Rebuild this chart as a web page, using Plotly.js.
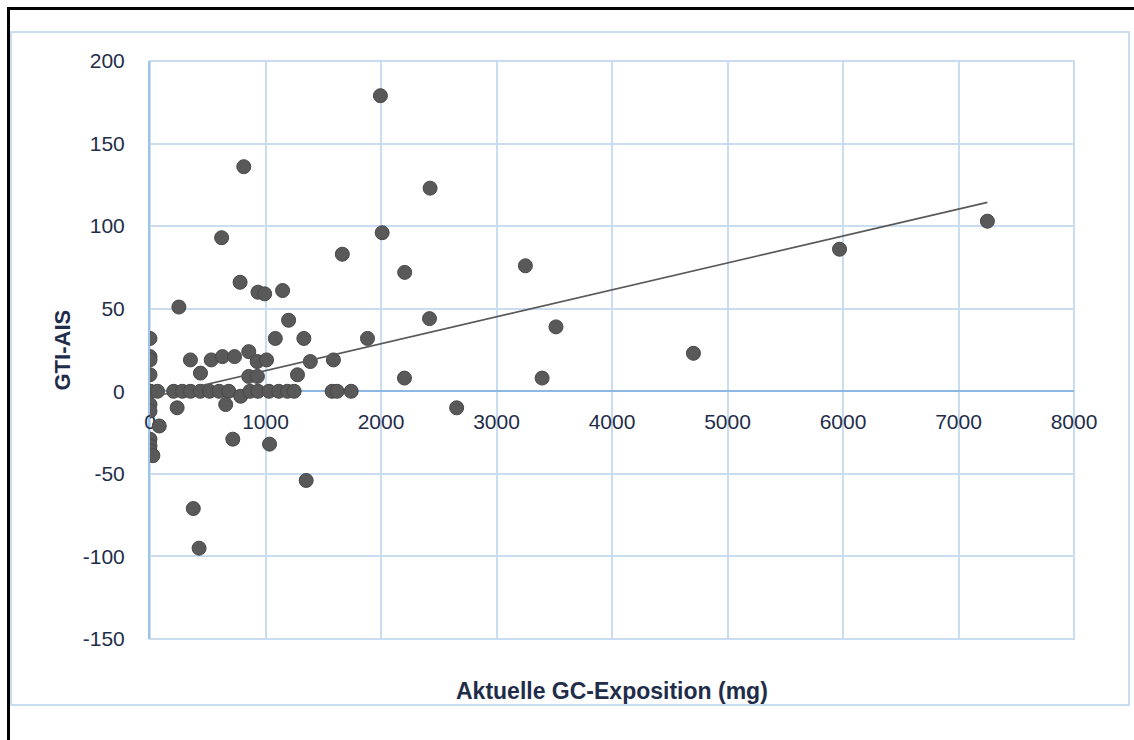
<!DOCTYPE html>
<html>
<head>
<meta charset="utf-8">
<script src="https://cdn.plot.ly/plotly-3.0.1.min.js"></script>
<style>
  html, body { margin:0; padding:0; background:#ffffff; }
  #wrap { position:relative; width:1134px; height:740px; overflow:hidden; background:#fff; }
  #blk { position:absolute; left:7px; top:7px; width:1140px; height:740px; border-left:3px solid #000; border-top:3px solid #000; box-sizing:border-box; }
  #frm { position:absolute; left:10px; top:31px; width:1120px; height:675px; border:2px solid #C9DCF0; box-sizing:border-box; }
  #chart { position:absolute; left:0; top:0; width:1134px; height:740px; }
</style>
</head>
<body>
<div id="wrap">
  <div id="blk"></div>
  <div id="frm"></div>
  <div id="chart"></div>
</div>
<script>
// Aktuelle GC-Exposition (mg)
const exposure = [
  1995, 812, 2425, 2010, 620, 1665, 3250, 2205, 780, 1148,
  935, 993, 250, 2420, 1200, 3515, 0, 1085, 1332, 1883,
  855, 4705, 0, 0, 350, 530, 627, 732, 928, 1009,
  1388, 1588, 0, 437, 855, 930, 1277, 2203, 3395, 5970,
  7250,
  0, 0, 0, 65, 205, 280, 350, 435, 515, 598,
  682, 785, 865, 935, 1030, 1115, 1190, 1248, 1577, 1620,
  1742,
  0, 0, 0, 0, 0, 25, 80, 235, 655, 717,
  1035, 1352, 375, 425, 2655
];
// GTI-AIS
const gtiAis = [
  179, 136, 123, 96, 93, 83, 76, 72, 66, 61,
  60, 59, 51, 44, 43, 39, 32, 32, 32, 32,
  24, 23, 21, 19, 19, 19, 21, 21, 18, 19,
  18, 19, 10, 11, 9, 9, 10, 8, 8, 86,
  103,
  0, 0, 0, 0, 0, 0, 0, 0, 0, 0,
  0, -3, 0, 0, 0, 0, 0, 0, 0, 0,
  0,
  -8, -12, -29, -33, -36, -39, -21, -10, -8, -29,
  -32, -54, -71, -95, -10
];
// Linear trendline
const trendX = [0, 7250];
const trendY = [-3.8, 114.4];

const xTicks = [0, 1000, 2000, 3000, 4000, 5000, 6000, 7000, 8000];
const yTicks = [-150, -100, -50, 0, 50, 100, 150, 200];

const gridCol = '#C9DCF0';
const axisCol = '#8DB8E3';
const txtCol = '#1F2D4A';
const fontFam = '"Liberation Sans", Arial, sans-serif';

const traces = [
  {
    type: 'scatter', mode: 'markers', x: exposure, y: gtiAis,
    marker: { size: 14, color: '#595959', line: { color: '#474747', width: 1 } },
    hoverinfo: 'x+y', showlegend: false
  },
  {
    type: 'scatter', mode: 'lines', x: trendX, y: trendY,
    line: { color: '#595959', width: 1.6 }, hoverinfo: 'skip', showlegend: false
  }
];

const yMin = yTicks[0], yMax = yTicks[yTicks.length - 1];

const layout = {
  width: 1134, height: 740,
  margin: { l: 150, r: 60, t: 61, b: 101, pad: 0 },
  paper_bgcolor: 'rgba(0,0,0,0)', plot_bgcolor: 'rgba(0,0,0,0)',
  font: { family: fontFam, color: txtCol },
  xaxis: {
    range: [xTicks[0], xTicks[xTicks.length - 1]],
    tickvals: xTicks, ticktext: xTicks.map(String),
    showgrid: true, gridcolor: gridCol, gridwidth: 2,
    zeroline: false,
    showline: true, linecolor: axisCol, linewidth: 2,
    anchor: 'free', position: (0 - yMin) / (yMax - yMin),
    ticks: '', ticklabelstandoff: 12,
    tickfont: { size: 21, color: txtCol, family: fontFam },
    layer: 'below traces', fixedrange: true
  },
  yaxis: {
    range: [yMin, yMax],
    tickvals: yTicks, ticktext: yTicks.map(String),
    showgrid: true, gridcolor: gridCol, gridwidth: 2,
    zeroline: false,
    showline: true, linecolor: '#9CC3E8', linewidth: 2,
    ticks: '', ticklabelstandoff: 19,
    tickfont: { size: 21, color: txtCol, family: fontFam },
    layer: 'below traces', fixedrange: true
  },
  shapes: [
    { type: 'rect', xref: 'paper', yref: 'paper', x0: 0, x1: 1, y0: 0, y1: 1,
      line: { color: gridCol, width: 2 }, layer: 'below' }
  ],
  annotations: [
    { text: '<b>Aktuelle GC-Exposition (mg)</b>', xref: 'paper', yref: 'paper',
      x: 0.5, y: -0.0895, xanchor: 'center', yanchor: 'middle', showarrow: false,
      font: { size: 23, color: txtCol, family: fontFam } },
    { text: '<b>GTI-AIS</b>', xref: 'paper', yref: 'paper',
      x: -0.0947, y: 0.5, xanchor: 'center', yanchor: 'middle', textangle: -90, showarrow: false,
      font: { size: 22, color: txtCol, family: fontFam } }
  ]
};

Plotly.newPlot('chart', traces, layout, { displayModeBar: false, staticPlot: true });
</script>
</body>
</html>
